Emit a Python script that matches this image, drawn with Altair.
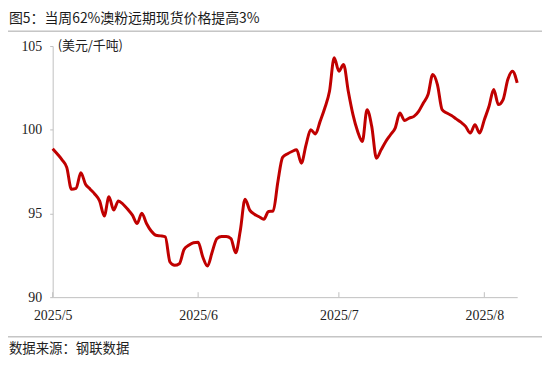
import altair as alt
import pandas as pd

TITLE = "图5：当周62%澳粉远期现货价格提高3%"
UNIT = "(美元/千吨)"
SOURCE = "数据来源：钢联数据"

START_DATE = "2025-05-01"
END_DATE = "2025-08-08"

# daily readings of the price (USD/t), from 2025-05-01
PRICE = [
    98.87, 98.55, 98.2, 97.75, 96.45, 96.5, 97.43, 96.75, 96.45, 96.15,
    95.75, 94.85, 96.0, 95.2, 95.75, 95.55, 95.25, 94.9, 94.4, 95.02,
    94.4, 93.95, 93.7, 93.66, 93.6, 92.1, 91.9, 92.0, 92.85, 93.1,
    93.25, 93.28, 92.4, 91.86, 92.7, 93.5, 93.62, 93.62, 93.5, 92.65,
    94.0, 95.85, 95.2, 94.95, 94.8, 94.65, 95.12, 95.15, 96.9, 98.35,
    98.55, 98.7, 98.8, 98.0, 99.1, 100.0, 99.75, 100.5, 101.3, 102.3,
    104.3, 103.5, 103.9, 102.3, 100.9, 99.9, 99.3, 101.2, 100.2, 98.3,
    98.8, 99.3, 99.7, 100.1, 101.0, 100.55, 100.7, 100.8, 101.1, 101.6,
    102.1, 103.3, 102.7, 101.2, 101.0, 100.85, 100.65, 100.45, 100.2, 99.8,
    100.3, 99.8, 100.6, 101.4, 102.4, 101.5, 101.8, 103.0, 103.5, 102.8,
]
DATES = pd.date_range(START_DATE, periods=len(PRICE), freq="D").strftime("%Y-%m-%d").tolist()

TICK_DATES = ["2025-05-01", "2025-06-01", "2025-07-01", "2025-08-01"]
Y_TICKS = [90, 95, 100, 105]

W, H = 468, 253
PAD = {"left": 45, "top": 37, "right": 25, "bottom": 63}

df = pd.DataFrame({"date": DATES, "price": PRICE})
ticks_df = pd.DataFrame({"date": TICK_DATES})

x_scale = alt.Scale(
    type="utc",
    domain=[alt.DateTime(year=2025, month=5, date=1, utc=True),
            alt.DateTime(year=2025, month=8, date=8, utc=True)],
)
y_scale = alt.Scale(domain=[90, 105], nice=False, zero=False)

x_axis = alt.Axis(
    title=None,
    values=[alt.DateTime(year=2025, month=m, date=1, utc=True) for m in (5, 6, 7, 8)],
    labelExpr="utcyear(datum.value) + '/' + (utcmonth(datum.value) + 1)",
    ticks=False, tickSize=0, labelPadding=12,
    labelFlush=False, labelOverlap=False,
    grid=False, domainColor="#BFBFBF", domainWidth=1,
    labelFont="Liberation Serif", labelFontSize=14, labelColor="#222222",
)
y_axis = alt.Axis(
    title=None, values=Y_TICKS, grid=False,
    tickSize=3, tickColor="#BFBFBF", labelPadding=8,
    domainColor="#BFBFBF", domainWidth=1,
    labelFont="Liberation Serif", labelFontSize=14, labelColor="#222222",
)

line = alt.Chart(df).mark_line(
    color="#C00000", strokeWidth=3, interpolate="monotone"
).encode(
    x=alt.X("date:T", scale=x_scale, axis=x_axis),
    y=alt.Y("price:Q", scale=y_scale, axis=y_axis),
)

xticks = alt.Chart(ticks_df).mark_rule(color="#BFBFBF", strokeWidth=1).encode(
    x=alt.X("date:T", scale=x_scale),
    y=alt.value(H - 5),
    y2=alt.value(H),
)

def text_layer(s, x, y, size, font, align="left", color="#222222"):
    return alt.Chart(pd.DataFrame({"t": [s]})).mark_text(
        align=align, baseline="middle", fontSize=size, font=font, color=color
    ).encode(text="t:N", x=alt.value(x), y=alt.value(y))

title = text_layer(TITLE, -44, -27, 14, "Noto Sans CJK SC", color="#1a1a1a")
unit = text_layer(UNIT, 5, 0, 13, "Noto Sans CJK SC")
source = text_layer(SOURCE, -44, 305, 13.5, "Noto Sans CJK SC")

sep_df = pd.DataFrame({"k": [0]})
top_rule = alt.Chart(sep_df).mark_rule(color="#A6A6A6", strokeWidth=1).encode(
    x=alt.value(-45), x2=alt.value(W + 25), y=alt.value(-15)
)
bottom_rule = alt.Chart(sep_df).mark_rule(color="#A6A6A6", strokeWidth=1).encode(
    x=alt.value(-45), x2=alt.value(W + 25), y=alt.value(293)
)

chart = alt.layer(
    line, xticks, title, unit, source, top_rule, bottom_rule
).properties(
    width=W, height=H,
    autosize=alt.AutoSizeParams(type="none"),
    padding=PAD,
    background="white",
).configure_view(stroke=None)

chart.save("out.html", embed_options={"renderer": "svg", "actions": False})
